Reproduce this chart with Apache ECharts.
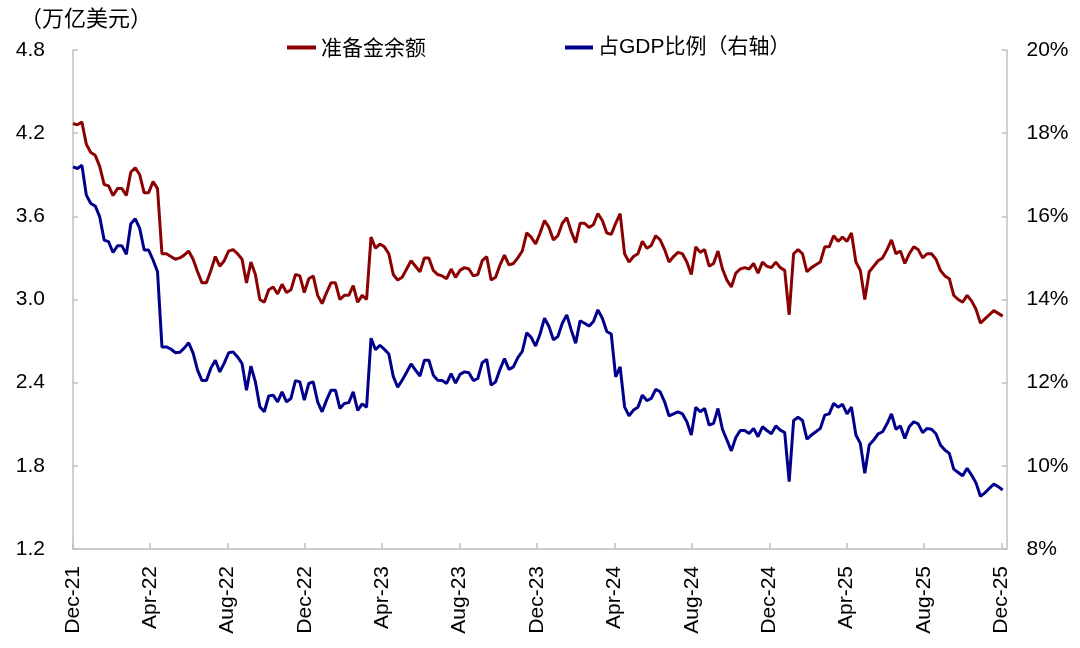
<!DOCTYPE html>
<html>
<head>
<meta charset="utf-8">
<script src="https://cdn.jsdelivr.net/npm/echarts@6/dist/echarts.min.js"></script>
<style>
html,body{margin:0;padding:0;background:#fff;}
#main{width:1080px;height:648px;}
</style>
</head>
<body>
<div id="main"></div>
<script>
// Weekly observations start date (Wednesdays), one value per week
var startDate = '2021-12-01';
var weekCount = 210;

// 准备金余额 (万亿美元), left axis
var reserves = [
4.27,4.26,4.28,4.12,4.06,4.04,3.96,3.83,3.82,3.75,3.80,3.80,3.75,3.92,3.95,3.90,3.77,3.77,3.85,3.80,
3.33,3.33,3.31,3.29,3.30,3.32,3.35,3.29,3.20,3.12,3.12,3.21,3.31,3.24,3.28,3.35,3.36,3.33,3.29,3.12,
3.27,3.18,3.00,2.98,3.07,3.09,3.04,3.11,3.05,3.07,3.18,3.17,3.05,3.15,3.17,3.03,2.97,3.05,3.12,3.12,
3.00,3.03,3.03,3.10,2.98,3.03,3.00,3.45,3.37,3.40,3.38,3.33,3.18,3.14,3.16,3.22,3.28,3.24,3.20,3.30,
3.30,3.21,3.18,3.17,3.15,3.22,3.16,3.21,3.23,3.22,3.17,3.18,3.28,3.31,3.14,3.16,3.25,3.32,3.25,3.26,
3.30,3.35,3.48,3.45,3.40,3.48,3.57,3.52,3.43,3.46,3.55,3.59,3.49,3.41,3.55,3.55,3.52,3.54,3.62,3.57,
3.48,3.47,3.55,3.62,3.33,3.27,3.31,3.33,3.42,3.37,3.39,3.46,3.43,3.36,3.27,3.31,3.34,3.33,3.27,3.18,
3.38,3.34,3.36,3.24,3.26,3.35,3.22,3.14,3.09,3.19,3.22,3.23,3.22,3.26,3.19,3.27,3.24,3.23,3.27,3.23,
3.21,2.89,3.33,3.36,3.33,3.20,3.23,3.25,3.27,3.38,3.38,3.46,3.42,3.45,3.42,3.48,3.27,3.21,3.00,3.20,
3.24,3.28,3.30,3.36,3.43,3.33,3.35,3.26,3.33,3.38,3.36,3.30,3.33,3.33,3.29,3.21,3.17,3.15,3.03,3.00,
2.98,3.03,2.99,2.93,2.83,2.86,2.89,2.92,2.90,2.88
];

// 占GDP比例 (%), right axis
var gdpRatio = [
17.19,17.15,17.23,16.51,16.31,16.25,15.99,15.43,15.39,15.13,15.29,15.29,15.09,15.82,15.94,15.71,15.19,15.19,14.95,14.67,
12.86,12.86,12.81,12.72,12.73,12.83,12.96,12.71,12.30,12.05,12.05,12.35,12.54,12.26,12.47,12.72,12.74,12.62,12.46,11.82,
12.40,12.02,11.42,11.30,11.68,11.70,11.54,11.78,11.54,11.62,12.05,12.02,11.58,11.98,12.02,11.54,11.30,11.58,11.82,11.82,
11.38,11.50,11.52,11.78,11.33,11.49,11.41,13.07,12.79,12.90,12.80,12.69,12.15,11.89,12.06,12.25,12.45,12.30,12.16,12.54,
12.54,12.18,12.06,12.05,11.98,12.22,11.99,12.20,12.26,12.24,12.05,12.10,12.48,12.56,11.94,12.02,12.32,12.58,12.32,12.38,
12.60,12.75,13.20,13.09,12.88,13.17,13.55,13.35,13.03,13.11,13.43,13.63,13.27,12.95,13.49,13.43,13.36,13.47,13.75,13.55,
13.23,13.17,12.14,12.38,11.42,11.20,11.34,11.41,11.70,11.57,11.62,11.84,11.78,11.54,11.20,11.25,11.30,11.25,11.06,10.74,
11.41,11.30,11.38,10.98,11.02,11.38,10.88,10.62,10.36,10.68,10.85,10.85,10.78,10.90,10.70,10.94,10.85,10.77,10.96,10.86,
10.80,9.62,11.09,11.17,11.09,10.64,10.74,10.82,10.90,11.22,11.25,11.50,11.41,11.48,11.25,11.41,10.74,10.54,9.82,10.50,
10.62,10.77,10.82,11.01,11.25,10.88,10.96,10.66,10.94,11.06,11.01,10.80,10.90,10.88,10.77,10.50,10.38,10.30,9.92,9.84,
9.76,9.94,9.78,9.59,9.27,9.35,9.46,9.56,9.50,9.42
];

// x-axis tick dates and labels
var tickDates = ['2021-12-01','2022-04-01','2022-08-01','2022-12-01','2023-04-01','2023-08-01','2023-12-01','2024-04-01','2024-08-01','2024-12-01','2025-04-01','2025-08-01','2025-12-01'];
var tickLabels = ['Dec-21','Apr-22','Aug-22','Dec-22','Apr-23','Aug-23','Dec-23','Apr-24','Aug-24','Dec-24','Apr-25','Aug-25','Dec-25'];
var axisEndDate = '2025-12-09';

var leftTicks = ['1.2','1.8','2.4','3.0','3.6','4.2','4.8'];

var seriesNames = ['准备金余额','占GDP比例（右轴）'];
var unitLabel = '（万亿美元）';

// day offsets from start date (UTC to avoid DST issues)
function dayNum(s){ var p = s.split('-'); return Date.UTC(+p[0], +p[1]-1, +p[2]) / 86400000; }
var d0 = dayNum(startDate);
var weekDays = [];
for (var i = 0; i < weekCount; i++) weekDays.push(7 * i);
var tickDays = tickDates.map(function(s){ return dayNum(s) - d0; });
var labelMap = {};
tickDays.forEach(function(t, k){ labelMap[t] = tickLabels[k]; });

var redData = reserves.map(function(v, k){ return [weekDays[k], v]; });
var blueData = gdpRatio.map(function(v, k){ return [weekDays[k], v]; });

var FONT = '"Liberation Sans", Arial, "Noto Sans CJK SC", sans-serif';
var axisGray = '#bfbfbf';

var chart = echarts.init(document.getElementById('main'));
chart.setOption({
  animation: false,
  backgroundColor: '#fff',
  textStyle: { fontFamily: FONT },
  grid: { left: 73, right: 73.5, top: 50, bottom: 99, containLabel: false },
  graphic: [{
    type: 'text', left: 20, top: 7,
    style: { text: unitLabel, fontSize: 22, fill: '#000', fontFamily: '"Noto Sans CJK SC", sans-serif' }
  }],
  legend: [{
    data: [seriesNames[0]], left: 287, top: 37, padding: 0, icon: 'rect', itemWidth: 29, itemHeight: 4,
    textStyle: { fontSize: 21, color: '#000', fontFamily: '"Noto Sans CJK SC", sans-serif' }
  }, {
    data: [seriesNames[1]], left: 565, top: 37, padding: 0, icon: 'rect', itemWidth: 28, itemHeight: 4,
    textStyle: { fontSize: 21, color: '#000', fontFamily: '"Liberation Sans", "Noto Sans CJK SC", sans-serif' }
  }],
  xAxis: {
    type: 'value',
    min: 0,
    max: dayNum(axisEndDate) - d0,
    axisLine: { show: true, onZero: false, lineStyle: { color: axisGray, width: 1.5 } },
    axisTick: { show: true, inside: true, length: 6, customValues: tickDays, lineStyle: { color: axisGray, width: 1.5 } },
    axisLabel: {
      customValues: tickDays,
      rotate: 90, margin: 17, fontSize: 21, color: '#000', fontFamily: FONT,
      formatter: function(v){ return labelMap[v] || ''; }
    },
    splitLine: { show: false }
  },
  yAxis: [{
    type: 'value', min: 1.2, max: 4.8, interval: 0.6, position: 'left',
    axisLine: { show: true, lineStyle: { color: axisGray, width: 1.5 } },
    axisTick: { show: true, inside: true, length: 5, lineStyle: { color: axisGray, width: 1.5 } },
    axisLabel: { fontSize: 21, color: '#000', margin: 28, fontFamily: FONT,
      formatter: function(v){ var s = v.toFixed(1); return leftTicks.indexOf(s) >= 0 ? s : ''; } },
    splitLine: { show: false }
  }, {
    type: 'value', min: 8, max: 20, interval: 2, position: 'right',
    axisLine: { show: true, lineStyle: { color: axisGray, width: 1.5 } },
    axisTick: { show: true, inside: true, length: 5, lineStyle: { color: axisGray, width: 1.5 } },
    axisLabel: { fontSize: 21, color: '#000', margin: 20, fontFamily: FONT, formatter: '{value}%' },
    splitLine: { show: false }
  }],
  series: [{
    name: seriesNames[0], type: 'line', yAxisIndex: 0, data: redData,
    showSymbol: false, symbol: 'none', color: '#8B0000',
    lineStyle: { color: '#8B0000', width: 3 }
  }, {
    name: seriesNames[1], type: 'line', yAxisIndex: 1, data: blueData,
    showSymbol: false, symbol: 'none', color: '#00008C',
    lineStyle: { color: '#00008C', width: 3 }
  }]
});
</script>
</body>
</html>
